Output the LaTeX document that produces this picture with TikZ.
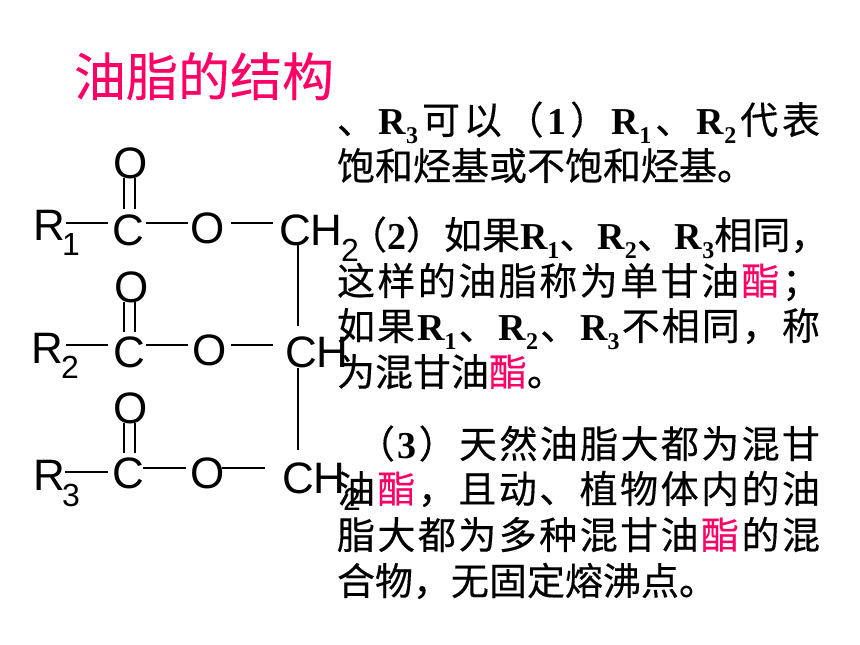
\documentclass[tikz,border=0pt]{standalone}
\usepackage{fontspec}
\setmainfont{Liberation Serif}
\newfontfamily\cjk{Noto Sans CJK SC}[FakeBold=0.35]
\newfontfamily\cjkt{Noto Sans CJK SC}[FakeBold=0.2]
\newfontfamily\chem{Liberation Sans}
\definecolor{pk}{HTML}{FF0066}
\tikzset{
  atom/.style={anchor=base west,inner sep=0pt,outer sep=0pt,font=\chem\fontsize{44}{44}\selectfont},
  idx/.style={anchor=base west,inner sep=0pt,outer sep=0pt,font=\chem\fontsize{32}{32}\selectfont},
  bond/.style={draw=black,line width=2pt},
  txt/.style={anchor=base west,inner sep=0pt,outer sep=0pt,font=\cjk\fontsize{38}{38}\selectfont},
  ttl/.style={anchor=base west,inner sep=0pt,outer sep=0pt,text=pk,font=\cjkt\fontsize{52}{52}\selectfont}
}
\newcommand{\Rx}[1]{{\rmfamily\bfseries\fontsize{38}{38}\selectfont R\raisebox{-9pt}{\fontsize{24}{24}\selectfont #1}}}
\newcommand{\Dg}[1]{{\rmfamily\bfseries\fontsize{38}{38}\selectfont #1}}
\newcommand{\zh}{{\color{pk}酯}}
\newcommand{\s}{\hfill}
\newcommand{\dbl}[3]{%
  \coordinate (#1a) at (124,#2); \coordinate (#1b) at (124,#3);
  \coordinate (#1c) at (135,#2); \coordinate (#1d) at (135,#3);
  \draw[bond] (#1a) -- (#1b); \draw[bond] (#1c) -- (#1d);}
\begin{document}
\begin{tikzpicture}[x=1pt,y=-1pt]
\useasboundingbox[fill=white] (0,0) rectangle (860,645);
% row 1
\node[atom] (O1) at (113,178) {O};
\node[atom] (R1) at (33,240) {R};
\node[idx] (i1) at (62,255) {1};
\node[atom] (C1) at (112,245) {C};
\node[atom] (Oa) at (190,243) {O};
\node[atom] (CH1) at (279,245) {CH};
\node[idx] (j1) at (341,261) {2};
% row 2
\node[atom] (O2) at (114,302) {O};
\node[atom] (R2) at (31,363) {R};
\node[idx] (i2) at (61,378) {2};
\node[atom] (C2) at (113,367) {C};
\node[atom] (Ob) at (192,365) {O};
\node[atom] (CH2) at (285,367) {CH};
% row 3
\node[atom] (O3) at (113,423) {O};
\node[atom] (R3) at (33,490) {R};
\node[idx] (i3) at (62,506) {3};
\node[atom] (C3) at (112,488) {C};
\node[atom] (Oc) at (190,488) {O};
\node[atom] (CH3) at (282,493) {CH};
\node[idx] (j3) at (343,510) {2};
% bonds
\dbl{p}{178}{209}
\dbl{q}{302}{332}
\dbl{r}{423}{453}
\coordinate (a1) at (66,223); \coordinate (a2) at (108,223);
\coordinate (a3) at (146,223); \coordinate (a4) at (188,223);
\coordinate (a5) at (231,223); \coordinate (a6) at (273,223);
\coordinate (b1) at (66,345); \coordinate (b2) at (108,345);
\coordinate (b3) at (146,345); \coordinate (b4) at (188,345);
\coordinate (b5) at (231,345); \coordinate (b6) at (273,345);
\coordinate (c1) at (65,472); \coordinate (c2) at (108,472);
\coordinate (c3) at (143,468); \coordinate (c4) at (186,468);
\coordinate (c5) at (222,468); \coordinate (c6) at (265,468);
\coordinate (v1) at (298,243); \coordinate (v2) at (298,326);
\coordinate (v3) at (298,368); \coordinate (v4) at (298,450);
\draw[bond] (a1) -- (a2); \draw[bond] (a3) -- (a4); \draw[bond] (a5) -- (a6);
\draw[bond] (b1) -- (b2); \draw[bond] (b3) -- (b4); \draw[bond] (b5) -- (b6);
\draw[bond] (c1) -- (c2); \draw[bond] (c3) -- (c4); \draw[bond] (c5) -- (c6);
\draw[bond] (v1) -- (v2); \draw[bond] (v3) -- (v4);
% title
\node[ttl] (title) at (74,96) {油脂的结构};
% text
\node[txt] (l1) at (337,134) {\makebox[483pt][s]{、\s\Rx{3}\s 可\s 以\s （\s\Dg{1}\s ）\s\Rx{1}\s 、\s\Rx{2}\s 代\s 表}};
\node[txt] (l2) at (337,180) {饱和烃基或不饱和烃基。};
\node[txt] (l3) at (349,249) {\makebox[454pt][s]{（\s\Dg{2}\s ）\s 如\s 果\s\Rx{1}\s 、\s\Rx{2}\s 、\s\Rx{3}\s 相\s 同\s ，}};
\node[txt] (l4) at (337,295) {\makebox[483pt][s]{这\s 样\s 的\s 油\s 脂\s 称\s 为\s 单\s 甘\s 油\s\zh\s ；}};
\node[txt] (l5) at (337,340) {\makebox[483pt][s]{如\s 果\s\Rx{1}\s 、\s\Rx{2}\s 、\s\Rx{3}\s 不\s 相\s 同\s ，\s 称}};
\node[txt] (l6) at (337,386) {为混甘油\zh 。};
\node[txt] (l7) at (357,458) {\makebox[463pt][s]{（\s\Dg{3}\s ）\s 天\s 然\s 油\s 脂\s 大\s 都\s 为\s 混\s 甘}};
\node[txt] (l8) at (337,503) {\makebox[483pt][s]{油\s\zh\s ，\s 且\s 动\s 、\s 植\s 物\s 体\s 内\s 的\s 油}};
\node[txt] (l9) at (337,549) {\makebox[483pt][s]{脂\s 大\s 都\s 为\s 多\s 种\s 混\s 甘\s 油\s\zh\s 的\s 混}};
\node[txt] (l10) at (337,595) {合物，无固定熔沸点。};
\end{tikzpicture}
\end{document}
